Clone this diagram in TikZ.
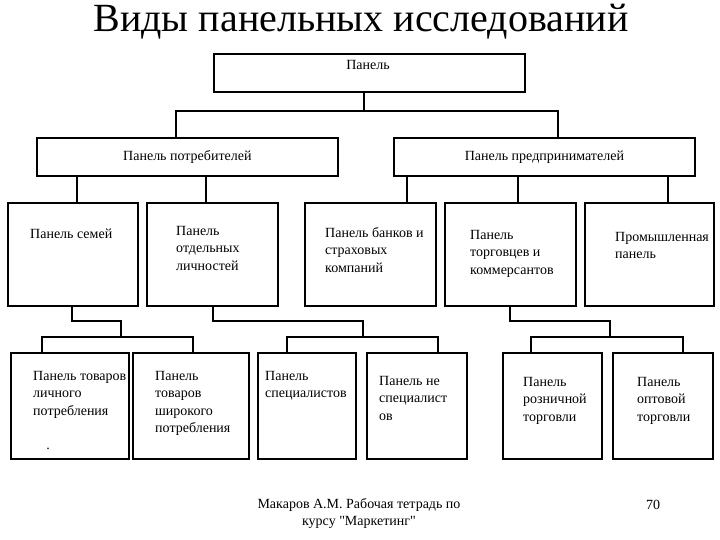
\documentclass[tikz,border=0pt]{standalone}
\usepackage{fontspec}
\setmainfont{Liberation Serif}
\tikzset{box/.style={draw=black, line width=1.8pt, anchor=north west, inner sep=0pt, font=\fontsize{14}{17.5}\selectfont},
	link/.style={draw=black, line width=1.3pt},
	lbl/.style={anchor=north west, inner sep=0pt, align=left, font=\fontsize{14}{17.5}\selectfont}}

\begin{document}
\begin{tikzpicture}[x=1pt, y=-1pt]
		\useasboundingbox (0,0) rectangle (720,540); %page frame
		\node[anchor=base, inner sep=0pt, font=\fontsize{40}{44}\selectfont] (title) at (361,32) {Виды панельных исследований}; %heading
		% level 1 and 2
		\node[box, minimum width=311, minimum height=38] (panel) at (213,53) {};
		\node[lbl, anchor=base] (t-panel) at (368,70) {Панель};
		\node[box, minimum width=301, minimum height=38] (potr) at (36,137) {Панель потребителей};
		\node[box, minimum width=301, minimum height=38] (pred) at (393,137) {Панель предпринимателей};
		% level 3
		\node[box, minimum width=130, minimum height=103] (semey) at (7,202) {};
		\node[box, minimum width=131, minimum height=103] (lichn) at (146,202) {};
		\node[box, minimum width=131, minimum height=103] (banki) at (304,202) {};
		\node[box, minimum width=131, minimum height=103] (torg) at (444,202) {};
		\node[box, minimum width=129, minimum height=103] (prom) at (584,202) {};
		\node[lbl] (t-semey) at (30,229) {Панель семей};
		\node[lbl] (t-lichn) at (176,226) {Панель\\отдельных\\личностей};
		\node[lbl] (t-banki) at (325,227) {Панель банков и\\страховых\\компаний};
		\node[lbl] (t-torg) at (470,230) {Панель\\торговцев и\\коммерсантов};
		\node[lbl] (t-prom) at (615,232) {Промышленная\\панель};
		% level 4
		\node[box, minimum width=118, minimum height=106] (tovlich) at (10,352) {};
		\node[box, minimum width=116, minimum height=106] (tovshir) at (132,352) {};
		\node[box, minimum width=98, minimum height=106] (spec) at (257,352) {};
		\node[box, minimum width=100, minimum height=106] (nespec) at (366,352) {};
		\node[box, minimum width=99, minimum height=106] (rozn) at (502,352) {};
		\node[box, minimum width=100, minimum height=106] (opt) at (612,352) {};
		\node[lbl] (t-tovlich) at (33,371) {Панель товаров\\личного\\потребления};
		\node[lbl] (t-tovshir) at (155,371) {Панель\\товаров\\широкого\\потребления};
		\node[lbl] (t-spec) at (265,371) {Панель\\специалистов};
		\node[lbl] (t-nespec) at (379,376) {Панель не\\специалист\\ов};
		\node[lbl] (t-rozn) at (523,377) {Панель\\розничной\\торговли};
		\node[lbl] (t-opt) at (637,377) {Панель\\оптовой\\торговли};
		\node[lbl, anchor=base] (dot) at (48,449) {.}; %stray dot
		% connectors
		\draw[link] (panel.south -| 364,0) -- (364,111) coordinate (j0);
		\draw[link] (potr.north -| 176,0) |- (j0) -| (pred.north -| 558,0);
		\foreach \x/\b in {77/semey,206/lichn}
		\draw[link] (potr.south -| \x,0) -- (\b.north -| \x,0); %down to level 3
		\foreach \x/\b in {407/banki,518/torg,668/prom}
		\draw[link] (pred.south -| \x,0) -- (\b.north -| \x,0);
		\foreach \p/\px/\jx/\a/\ax/\b/\bx in {semey/72/121/tovlich/42/tovshir/193,lichn/213/363/spec/287/nespec/438,torg/510/610/rozn/531/opt/683}{
			\draw[link] (\p.south -| \px,0) |- (\jx,321) -- (\jx,337) coordinate (j-\p);
			\draw[link] (\a.north -| \ax,0) |- (j-\p) -| (\b.north -| \bx,0); %down to level 4
		}
		% footer
		\node[lbl, anchor=north, align=center] (source) at (359,498) {Макаров А.М. Рабочая тетрадь по\\курсу \textquotedbl Маркетинг\textquotedbl};
		\node[lbl, anchor=base] (page) at (653,509) {70};
	\end{tikzpicture}
\end{document}
